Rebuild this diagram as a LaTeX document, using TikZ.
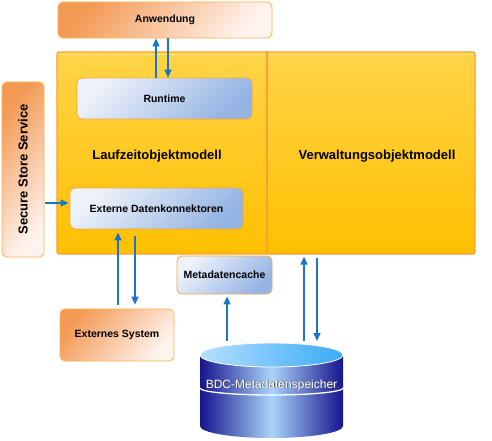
\documentclass[tikz,border=0pt]{standalone}
\usepackage{fontspec}
\setmainfont{Liberation Sans}
\usetikzlibrary{arrows.meta,calc}
\definecolor{arrblue}{HTML}{1B75C9}
\definecolor{orgdark}{HTML}{F39A55}
\definecolor{orglight}{HTML}{FFF3EE}
\definecolor{orgline}{HTML}{FFB347}
\definecolor{yeltop}{HTML}{FFD448}
\definecolor{yelbot}{HTML}{FFC000}
\definecolor{yelline}{HTML}{F9A035}
\definecolor{yelhi}{HTML}{FFE58A}
\definecolor{bluelight}{HTML}{EEF2FA}
\definecolor{bluedark}{HTML}{95B4E4}
\definecolor{boxline}{HTML}{F5A444}
\definecolor{dbdark}{HTML}{16148E}
\definecolor{dbmid}{HTML}{A9D3F8}
\definecolor{dbtopl}{HTML}{B6DFFF}
\definecolor{dbtopd}{HTML}{39ABF6}
\tikzset{
  orangebox/.style={draw=orgline, line width=0.8pt, rounded corners=5pt,
    top color=orgdark, bottom color=orglight, shading angle=50,
    font=\fontsize{10.5}{12}\selectfont\bfseries, inner sep=0pt},
  bluebox/.style={draw=boxline, line width=0.8pt, rounded corners=5pt,
    top color=bluelight, bottom color=bluedark, shading angle=45,
    font=\fontsize{10.5}{12}\selectfont\bfseries, inner sep=0pt},
  yellowbox/.style={draw=yelline, line width=1.2pt, rounded corners=2pt,
    top color=yeltop, bottom color=yelbot, inner sep=0pt},
  bigtext/.style={font=\fontsize{13}{15}\selectfont\bfseries},
  arr/.style={draw=arrblue, line width=1.4pt,
    -{Triangle[width=7pt,length=8pt]}}
}
\begin{document}
\begin{tikzpicture}[x=1pt,y=-1pt]
\useasboundingbox (0,0) rectangle (492,440);
% boxes
\node[orangebox, minimum width=214pt, minimum height=36pt] (anw) at (165,20) {Anwendung};
\node[yellowbox, minimum width=418pt, minimum height=202pt] (main) at (266,153) {};
\draw[yelhi, line width=1.5pt] (59,54.5) -- (473,54.5);
\draw[yelline, line width=1.2pt] (267,52) -- (267,254);
\node[bigtext] (lzm) at (157,156) {Laufzeitobjektmodell};
\node[bigtext] (vom) at (377,156) {Verwaltungsobjektmodell};
\node[bluebox, minimum width=175pt, minimum height=41pt] (runtime) at (164.5,98.5) {Runtime};
\node[bluebox, minimum width=173pt, minimum height=41pt] (ext) at (156.5,208.5) {Externe Datenkonnektoren};
\node[orangebox, minimum width=42pt, minimum height=175pt] (sss) at (23,169.5) {};
\node[rotate=90, font=\fontsize{13}{15}\selectfont\bfseries] (ssstxt) at (sss.center) {Secure Store Service};
\node[orangebox, minimum width=114pt, minimum height=52pt] (exsys) at (117,335) {Externes System};
\node[bluebox, minimum width=95pt, minimum height=38pt] (cache) at (224.5,275) {Metadatencache};
% database cylinder
\shade[left color=dbdark, right color=dbdark, middle color=dbmid]
  (200,355) -- (200,426) arc[start angle=180, end angle=360, x radius=71.5pt, y radius=12pt]
  -- (343,355) arc[start angle=0, end angle=180, x radius=71.5pt, y radius=12pt] -- cycle;
\shade[left color=dbtopl, right color=dbtopd, draw=white, line width=0.8pt]
  (271.5,355) ellipse [x radius=71.5pt, y radius=12pt];
\draw[white, line width=1.3pt] (200,388) arc[start angle=180, end angle=360, x radius=71.5pt, y radius=7pt];
\node[text=black!70, font=\fontsize{12}{14}\selectfont] at (272.3,385.7) {BDC-Metadatenspeicher};
\node[text=white, font=\fontsize{12}{14}\selectfont] (db) at (271.5,385) {BDC-Metadatenspeicher};
\coordinate (dbtop) at (271.5,341);
% helper coordinates
\coordinate (a1) at ([xshift=-8.5pt]runtime.north);
\coordinate (a2) at ([xshift=3.5pt]runtime.north);
\coordinate (s1) at ([yshift=5.5pt]ext.west);
\coordinate (e1) at ([xshift=-38.5pt]ext.south);
\coordinate (e2) at ([xshift=-21.5pt]ext.south);
\coordinate (c1) at ([xshift=2.5pt]cache.south);
\coordinate (m1) at ([xshift=38pt]main.south);
\coordinate (m2) at ([xshift=51pt]main.south);
% arrows
\draw[arr] (a1) -- (a1 |- anw.south);
\draw[arr] (a2 |- anw.south) -- (a2);
\draw[arr, shorten >=1pt] ([xshift=1pt]sss.east |- s1) -- (s1);
\draw[arr, shorten <=4pt, shorten >=3pt] (e1 |- exsys.north) -- (e1);
\draw[arr, shorten <=7pt, shorten >=4pt] (e2) -- (e2 |- exsys.north);
\draw[arr, shorten >=2pt] (c1 |- dbtop) -- (c1);
\draw[arr, shorten >=2pt] (m1 |- dbtop) -- (m1);
\draw[arr, shorten <=3pt] (m2) -- (m2 |- dbtop);
\end{tikzpicture}
\end{document}
